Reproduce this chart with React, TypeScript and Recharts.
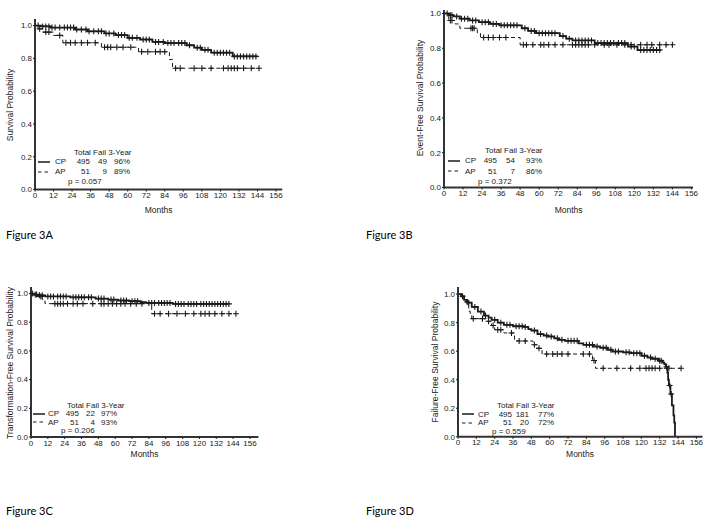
import React from 'react';
import { ComposedChart, Line, Scatter, XAxis, YAxis } from 'recharts';

const MONTH_TICKS = [0, 12, 24, 36, 48, 60, 72, 84, 96, 108, 120, 132, 144, 156];
const PROB_TICKS = [0, 0.2, 0.4, 0.6, 0.8, 1.0];

// Figure 3A - overall survival
const A_CP_MONTHS = [0, 4, 10, 26, 34, 45, 52, 60, 68, 76, 84, 98, 103, 108, 114, 128, 144];
const A_CP_SURV = [1.0, 0.995, 0.988, 0.976, 0.965, 0.952, 0.942, 0.925, 0.915, 0.9, 0.893, 0.88, 0.865, 0.852, 0.835, 0.812, 0.812];
const A_CP_CENSOR = [2, 5, 7, 9, 11, 13, 16, 19, 21, 23, 25, 27, 30, 33, 35, 38, 41, 43, 46, 48, 51, 54, 56, 58, 61, 63, 66, 70, 72, 74, 78, 80, 83, 86, 88, 90, 93, 95, 97, 100, 105, 107, 110, 112, 116, 118, 120, 122, 124, 126, 129, 131, 133, 135, 137, 139, 141, 143];
const A_AP_MONTHS = [0, 2, 5, 12, 18, 43, 67, 87, 89, 145];
const A_AP_SURV = [1.0, 0.98, 0.96, 0.94, 0.895, 0.868, 0.84, 0.793, 0.74, 0.74];
const A_AP_CENSOR = [3, 7, 9, 16, 20, 23, 26, 30, 34, 39, 45, 47, 49, 53, 57, 62, 69, 73, 78, 81, 84, 91, 94, 103, 108, 114, 122, 125, 127, 129, 131, 135, 140, 145];

// Figure 3B - event-free survival
const B_CP_MONTHS = [0, 3, 6, 10, 16, 22, 29, 35, 49, 53, 58, 73, 77, 81, 95, 116, 122, 137];
const B_CP_SURV = [1.0, 0.99, 0.983, 0.97, 0.96, 0.95, 0.94, 0.932, 0.915, 0.9, 0.887, 0.87, 0.855, 0.845, 0.83, 0.81, 0.79, 0.79];
const B_CP_CENSOR = [2, 4, 5, 8, 11, 13, 15, 18, 20, 24, 26, 28, 31, 33, 36, 38, 40, 42, 44, 46, 51, 55, 57, 60, 62, 64, 66, 68, 70, 75, 79, 83, 85, 87, 89, 91, 93, 97, 99, 101, 103, 105, 107, 110, 112, 114, 118, 120, 124, 126, 128, 130, 132, 134, 136];
const B_AP_MONTHS = [0, 3, 7, 10, 21, 23, 48, 144];
const B_AP_SURV = [1.0, 0.96, 0.94, 0.915, 0.886, 0.862, 0.82, 0.82];
const B_AP_CENSOR = [4, 5, 17, 18, 19, 25, 28, 31, 35, 39, 50, 52, 56, 61, 63, 66, 70, 75, 81, 83, 85, 87, 89, 91, 95, 101, 104, 109, 114, 118, 124, 128, 131, 136, 140, 144];

// Figure 3C - transformation-free survival
const C_CP_MONTHS = [0, 2, 5, 10, 28, 46, 55, 62, 70, 78, 82, 101, 141];
const C_CP_SURV = [1.0, 0.993, 0.988, 0.98, 0.974, 0.965, 0.958, 0.952, 0.947, 0.94, 0.935, 0.928, 0.928];
const C_CP_CENSOR = [1, 3, 4, 6, 8, 12, 14, 16, 19, 21, 23, 25, 30, 32, 34, 36, 38, 41, 43, 48, 50, 52, 57, 59, 64, 66, 68, 72, 74, 76, 84, 86, 88, 91, 93, 95, 97, 99, 103, 105, 107, 109, 112, 114, 116, 118, 121, 123, 125, 127, 129, 131, 133, 135, 137, 139, 141];
const C_AP_MONTHS = [0, 4, 8, 10, 86, 146];
const C_AP_SURV = [1.0, 0.98, 0.96, 0.93, 0.86, 0.86];
const C_AP_CENSOR = [7, 17, 19, 21, 23, 26, 30, 33, 37, 44, 50, 52, 55, 58, 61, 64, 67, 71, 75, 79, 88, 92, 98, 104, 110, 116, 121, 124, 127, 131, 136, 141, 146];

// Figure 3D - failure-free survival
const D_CP_MONTHS = [0, 2, 4, 6, 9, 13, 17, 20, 22, 26, 30, 36, 43, 46, 48, 52, 56, 59, 63, 66, 70, 79, 82, 89, 93, 98, 101, 108, 113, 120, 124, 127, 131, 134, 135, 136, 137, 137.5, 138, 139, 140, 141, 141.5, 142];
const D_CP_SURV = [1.0, 0.985, 0.96, 0.94, 0.91, 0.878, 0.85, 0.835, 0.82, 0.8, 0.785, 0.775, 0.77, 0.755, 0.745, 0.72, 0.71, 0.703, 0.69, 0.68, 0.673, 0.655, 0.645, 0.633, 0.624, 0.61, 0.598, 0.592, 0.586, 0.568, 0.556, 0.547, 0.533, 0.52, 0.51, 0.49, 0.45, 0.4, 0.36, 0.3, 0.22, 0.15, 0.1, 0.0];
const D_CP_CENSOR = [3, 7, 11, 15, 18, 24, 28, 32, 34, 38, 40, 42, 44, 50, 54, 58, 61, 65, 68, 72, 74, 76, 78, 84, 86, 88, 91, 95, 97, 100, 103, 105, 110, 112, 115, 117, 119, 122, 126, 129, 132, 133, 136.5, 138.5, 139.5];
const D_AP_MONTHS = [0, 3, 5, 7, 8, 9, 19, 22, 24, 30, 37, 49, 52, 55, 88, 90, 146];
const D_AP_SURV = [1.0, 0.97, 0.945, 0.88, 0.855, 0.828, 0.81, 0.78, 0.75, 0.728, 0.672, 0.645, 0.62, 0.58, 0.535, 0.48, 0.48];
const D_AP_CENSOR = [6, 10, 16, 20, 23, 26, 28, 35, 40, 44, 50, 53, 58, 62, 65, 68, 72, 82, 86, 89, 95, 104, 113, 119, 123, 125, 127, 129, 132, 138, 146];

const INK = '#1a1a1a';
const FONT = '"Liberation Sans", Arial, sans-serif';

const toSteps = (months: number[], surv: number[]) => months.map((m, i) => ({ m, s: surv[i] }));

// value of the step curve at month t (used to place censor ticks on the curve)
const survAt = (months: number[], surv: number[], t: number) => {
    let v = surv[0];
    months.forEach((m, i) => {
        if (m <= t) v = surv[i];
    });
    return v;
};

const toCensor = (cens: number[], months: number[], surv: number[]) =>
    cens.map((t) => ({ m: t, s: survAt(months, surv, t) }));

const PlusMark = (props: any) => {
    const { cx, cy } = props;
    if (cx == null || cy == null) return null;
    return <path d={`M${cx - 3},${cy}h6M${cx},${cy - 3}v6`} stroke={INK} strokeWidth={1.1} fill="none" />;
};

const Txt = ({ x, y, children, anchor = 'start', size = 8, font = FONT, color = INK }: any) => {
    const shift = anchor === 'end' ? 'translateX(-100%)' : anchor === 'middle' ? 'translateX(-50%)' : 'none';
    const lh = Math.round(size * 1.15);
    return (
        <div style={{ position: 'absolute', left: x, top: y - lh / 2, lineHeight: `${lh}px`, fontSize: size, fontFamily: font, color, whiteSpace: 'nowrap', transform: shift }}>
            {children}
        </div>
    );
};

const VTxt = ({ x, y, children }: any) => (
    <div style={{ position: 'absolute', left: x, top: y, fontSize: 8.5, fontFamily: FONT, color: INK, whiteSpace: 'nowrap', lineHeight: '10px', transform: 'translate(-50%,-50%) rotate(-90deg)' }}>
        {children}
    </div>
);

const Sample = ({ x, y, dashed }: { x: number; y: number; dashed?: boolean }) => (
    <svg style={{ position: 'absolute', left: x, top: y - 2, overflow: 'visible' }} width={13} height={4}>
        <line x1={0} x2={12} y1={2} y2={2} stroke={INK} strokeWidth={dashed ? 1 : 1.5} strokeDasharray={dashed ? '3.5 3' : undefined} />
    </svg>
);

interface PanelProps {
    box: { x0: number; x1: number; y0: number; y1: number };
    xMax: number;
    yMax: number;
    cp: { m: number; s: number }[];
    ap: { m: number; s: number }[];
    cpCens: { m: number; s: number }[];
    apCens: { m: number; s: number }[];
}

function KMPanel({ box, xMax, yMax, cp, ap, cpCens, apCens }: PanelProps) {
    const yw = 30;
    const mt = 4;
    const xh = 20;
    const width = box.x1 - box.x0 + yw + 12;
    const height = box.y1 - box.y0 + mt + xh;
    return (
        <div style={{ position: 'absolute', left: box.x0 - yw, top: box.y0 - mt }}>
            <ComposedChart width={width} height={height} margin={{ top: mt, right: 12, left: 0, bottom: 0 }}>
                <XAxis
                    type="number"
                    dataKey="m"
                    domain={[0, xMax]}
                    ticks={MONTH_TICKS}
                    allowDataOverflow
                    height={xh}
                    tickSize={2}
                    tickMargin={1}
                    tick={{ fontSize: 8, fill: INK, fontFamily: FONT }}
                    tickLine={{ stroke: INK }}
                    axisLine={{ stroke: '#333', strokeWidth: 2 }}
                    interval={0}
                />
                <YAxis
                    type="number"
                    dataKey="s"
                    domain={[0, yMax]}
                    ticks={PROB_TICKS}
                    allowDataOverflow
                    width={yw}
                    tickSize={2}
                    tickMargin={1}
                    tickFormatter={(v: number) => v.toFixed(1)}
                    tick={{ fontSize: 8, fill: INK, fontFamily: FONT }}
                    tickLine={{ stroke: INK }}
                    axisLine={{ stroke: '#333', strokeWidth: 2 }}
                    interval={0}
                />
                <Line data={ap} dataKey="s" type="stepAfter" stroke={INK} strokeWidth={1} strokeDasharray="4 3" dot={false} isAnimationActive={false} />
                <Line data={cp} dataKey="s" type="stepAfter" stroke={INK} strokeWidth={1.8} dot={false} isAnimationActive={false} />
                <Scatter data={apCens} shape={PlusMark} isAnimationActive={false} />
                <Scatter data={cpCens} shape={PlusMark} isAnimationActive={false} />
            </ComposedChart>
        </div>
    );
}

interface LegendProps {
    x: number;
    y: number;
    gap: number;
    cols: number[];
    cp: string[];
    ap: string[];
    p: string;
}

// cols: [group label, n end, fail end, pct end, header start, p start]
function KMLegend({ x, y, gap, cols, cp, ap, p }: LegendProps) {
    const [cg, cn, cf, cpct, ch, cpv] = cols;
    return (
        <>
            <Txt x={x + ch} y={y}>Total Fail 3-Year</Txt>
            <Sample x={x} y={y + gap} />
            <Txt x={x + cg} y={y + gap}>CP</Txt>
            <Txt x={x + cn} y={y + gap} anchor="end">{cp[0]}</Txt>
            <Txt x={x + cf} y={y + gap} anchor="end">{cp[1]}</Txt>
            <Txt x={x + cpct} y={y + gap} anchor="end">{cp[2]}</Txt>
            <Sample x={x} y={y + gap * 2} dashed />
            <Txt x={x + cg} y={y + gap * 2}>AP</Txt>
            <Txt x={x + cn} y={y + gap * 2} anchor="end">{ap[0]}</Txt>
            <Txt x={x + cf} y={y + gap * 2} anchor="end">{ap[1]}</Txt>
            <Txt x={x + cpct} y={y + gap * 2} anchor="end">{ap[2]}</Txt>
            <Txt x={x + cpv} y={y + gap * 3}>{p}</Txt>
        </>
    );
}

export default function App() {
    const figFont = 'Lato, "Open Sans", sans-serif';
    return (
        <div style={{ position: 'absolute', left: 0, top: 0, width: 714, height: 519, background: '#fff', overflow: 'hidden' }}>
            {/* A */}
            <KMPanel
                box={{ x0: 35, x1: 282.2, y0: 19.4, y1: 190 }}
                xMax={160}
                yMax={1.04}
                cp={toSteps(A_CP_MONTHS, A_CP_SURV)}
                ap={toSteps(A_AP_MONTHS, A_AP_SURV)}
                cpCens={toCensor(A_CP_CENSOR, A_CP_MONTHS, A_CP_SURV)}
                apCens={toCensor(A_AP_CENSOR, A_AP_MONTHS, A_AP_SURV)}
            />
            <VTxt x={10} y={105}>Survival Probability</VTxt>
            <Txt x={158.6} y={210} anchor="middle" size={8.5}>Months</Txt>
            <KMLegend x={38} y={152} gap={9.9} cols={[17, 52, 69, 92, 36, 30]} cp={['495', '49', '96%']} ap={['51', '9', '89%']} p="p = 0.057" />
            <Txt x={6} y={234} size={11} font={figFont} color="#000">Figure 3A</Txt>

            {/* B */}
            <KMPanel
                box={{ x0: 444.3, x1: 693.3, y0: 10.2, y1: 187.7 }}
                xMax={157}
                yMax={1.02}
                cp={toSteps(B_CP_MONTHS, B_CP_SURV)}
                ap={toSteps(B_AP_MONTHS, B_AP_SURV)}
                cpCens={toCensor(B_CP_CENSOR, B_CP_MONTHS, B_CP_SURV)}
                apCens={toCensor(B_AP_CENSOR, B_AP_MONTHS, B_AP_SURV)}
            />
            <VTxt x={420} y={98}>Event-Free Survival Probability</VTxt>
            <Txt x={568.6} y={210} anchor="middle" size={8.5}>Months</Txt>
            <KMLegend x={448} y={150} gap={10.5} cols={[17, 49, 67, 94, 37, 30]} cp={['495', '54', '93%']} ap={['51', '7', '86%']} p="p = 0.372" />
            <Txt x={366} y={234} size={11} font={figFont} color="#000">Figure 3B</Txt>

            {/* C */}
            <KMPanel
                box={{ x0: 31, x1: 258.4, y0: 286.7, y1: 436.7 }}
                xMax={162}
                yMax={1.046}
                cp={toSteps(C_CP_MONTHS, C_CP_SURV)}
                ap={toSteps(C_AP_MONTHS, C_AP_SURV)}
                cpCens={toCensor(C_CP_CENSOR, C_CP_MONTHS, C_CP_SURV)}
                apCens={toCensor(C_AP_CENSOR, C_AP_MONTHS, C_AP_SURV)}
            />
            <VTxt x={9.5} y={363}>Transformation-Free Survival Probability</VTxt>
            <Txt x={144.5} y={454} anchor="middle" size={8.5}>Months</Txt>
            <KMLegend x={33} y={405} gap={8.6} cols={[15, 46, 62, 84, 34, 28]} cp={['495', '22', '97%']} ap={['51', '4', '93%']} p="p = 0.206" />
            <Txt x={6} y={510} size={11} font={figFont} color="#000">Figure 3C</Txt>

            {/* D */}
            <KMPanel
                box={{ x0: 458.3, x1: 702.8, y0: 286.9, y1: 436.7 }}
                xMax={160}
                yMax={1.05}
                cp={toSteps(D_CP_MONTHS, D_CP_SURV)}
                ap={toSteps(D_AP_MONTHS, D_AP_SURV)}
                cpCens={toCensor(D_CP_CENSOR, D_CP_MONTHS, D_CP_SURV)}
                apCens={toCensor(D_AP_CENSOR, D_AP_MONTHS, D_AP_SURV)}
            />
            <VTxt x={435} y={362}>Failure-Free Survival Probability</VTxt>
            <Txt x={580} y={454} anchor="middle" size={8.5}>Months</Txt>
            <KMLegend x={462} y={405.7} gap={8.5} cols={[16, 50, 67, 92, 35, 30]} cp={['495', '181', '77%']} ap={['51', '20', '72%']} p="p = 0.559" />
            <Txt x={366} y={510} size={11} font={figFont} color="#000">Figure 3D</Txt>
        </div>
    );
}
